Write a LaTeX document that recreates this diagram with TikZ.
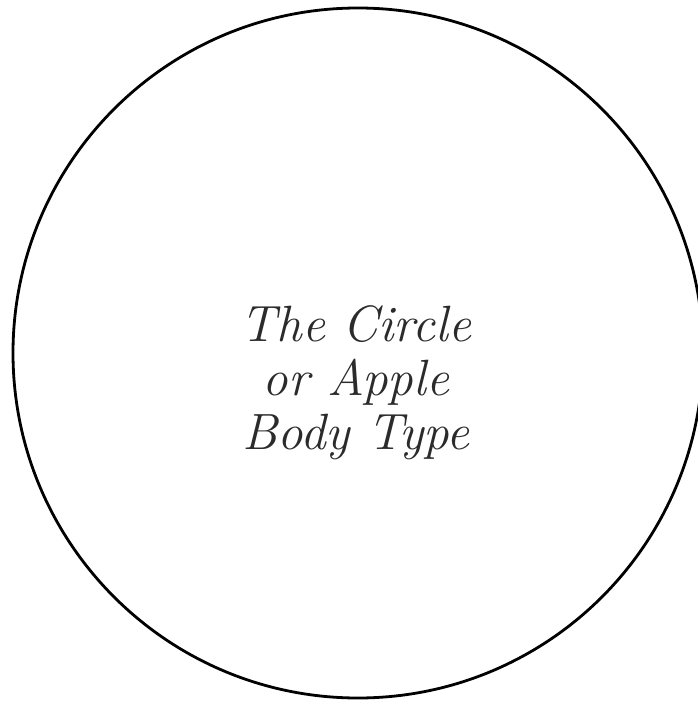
\documentclass[tikz,border=0pt]{standalone}
\usepackage{xcolor}
\usepackage{tikz}
\definecolor{inkgray}{HTML}{2B2B2B}
\tikzset{every node/.append style={font=\rmfamily}}

\begin{document}
\begin{tikzpicture}[x=1pt,y=1pt]
  \useasboundingbox (0,0) rectangle (697,-701);
  \draw[black,line width=2.8pt] (358,-353) circle[radius=345];
  \node[inkgray,align=center,font=\rmfamily\itshape\fontsize{51}{54}\selectfont]
    (label) at (356,-383) {The Circle\\or Apple\\Body Type};
\end{tikzpicture}
\end{document}
